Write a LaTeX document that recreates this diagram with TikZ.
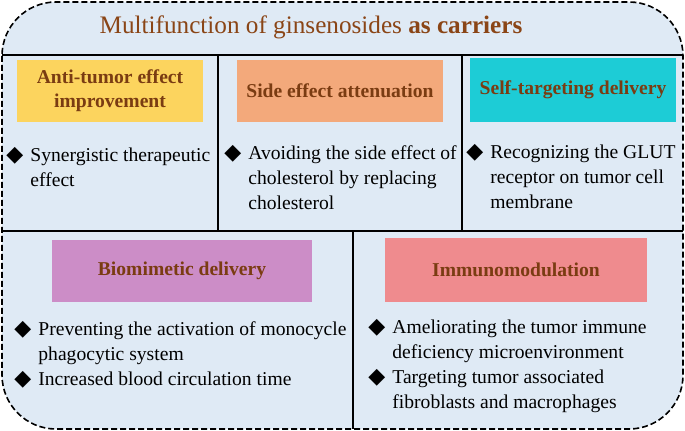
\documentclass[tikz,border=0pt]{standalone}
\usepackage{fontspec}
\setmainfont{Liberation Serif}
\newfontfamily\symfont{DejaVu Sans}
\usetikzlibrary{positioning}
\definecolor{bgblue}{HTML}{DFEAF5}
\definecolor{titlebrown}{HTML}{8A4516}
\definecolor{headbrown}{HTML}{7A3C12}
\definecolor{antiyellow}{HTML}{FCD45E}
\definecolor{sideorange}{HTML}{F3A97B}
\definecolor{selfcyan}{HTML}{1DCCD6}
\definecolor{biopurple}{HTML}{CC8DC7}
\definecolor{immunored}{HTML}{EF8B8E}
\newcommand{\itemdia}{\llap{{\symfont\fontsize{11}{11}\selectfont ◆}\hspace{3.5pt}}}

\begin{document}
\begin{tikzpicture}[x=0.5pt,y=-0.5pt]
\tikzstyle{every node}+=[inner sep=0pt]
\tikzstyle{headbox}=[minimum height=31pt, font=\fontsize{9.8}{12}\selectfont\bfseries, text=headbrown, align=center]
\tikzstyle{itemtext}=[anchor=north west, align=left, font=\fontsize{9.8}{12.5}\selectfont]
\useasboundingbox (0,0) rectangle (685,431);
\draw [black, line width=0.8pt, dash pattern=on 3pt off 1.5pt, rounded corners=27pt, fill=bgblue] (2,2) rectangle (683,429);
\draw [black, line width=1pt] (2,55) -- (683,55);
\draw [black, line width=1pt] (218,55) -- (218,231);
\draw [black, line width=1pt] (462,55) -- (462,231);
\draw [black, line width=1pt] (2,231) -- (683,231);
\draw [black, line width=1pt] (353,231) -- (353,429);
\node (title) at (311,27) [font=\fontsize{12.6}{15}\selectfont, text=titlebrown] {Multifunction of ginsenosides \textbf{as carriers}};
% top row
\node (anti) at (110,91) [headbox, fill=antiyellow, minimum width=93pt] {Anti-tumor effect\\improvement};
\node (side) at (340,91) [headbox, fill=sideorange, minimum width=103pt] {Side effect attenuation};
\node (self) at (573,90) [headbox, fill=selfcyan, minimum width=103pt, minimum height=32pt] {Self-targeting delivery};
\node (antiitem) at (30,147) [itemtext] {\itemdia Synergistic therapeutic\\effect};
\node (sideitem) at (248,145) [itemtext] {\itemdia Avoiding the side effect of\\cholesterol by replacing\\cholesterol};
\node (selfitem) at (490,144) [itemtext] {\itemdia Recognizing the GLUT\\receptor on tumor cell\\membrane};
% bottom row
\node (bio) at (182,271) [headbox, fill=biopurple, minimum width=130pt] {Biomimetic delivery};
\node (immuno) at (516,270) [headbox, fill=immunored, minimum width=131pt, minimum height=32pt] {Immunomodulation};
\node (bioitem) at (38,321) [itemtext] {\itemdia Preventing the activation of monocycle\\phagocytic system\\\itemdia Increased blood circulation time};
\node (immunoitem) at (392,319) [itemtext] {\itemdia Ameliorating the tumor immune\\deficiency microenvironment\\\itemdia Targeting tumor associated\\fibroblasts and macrophages};
\end{tikzpicture}
\end{document}
